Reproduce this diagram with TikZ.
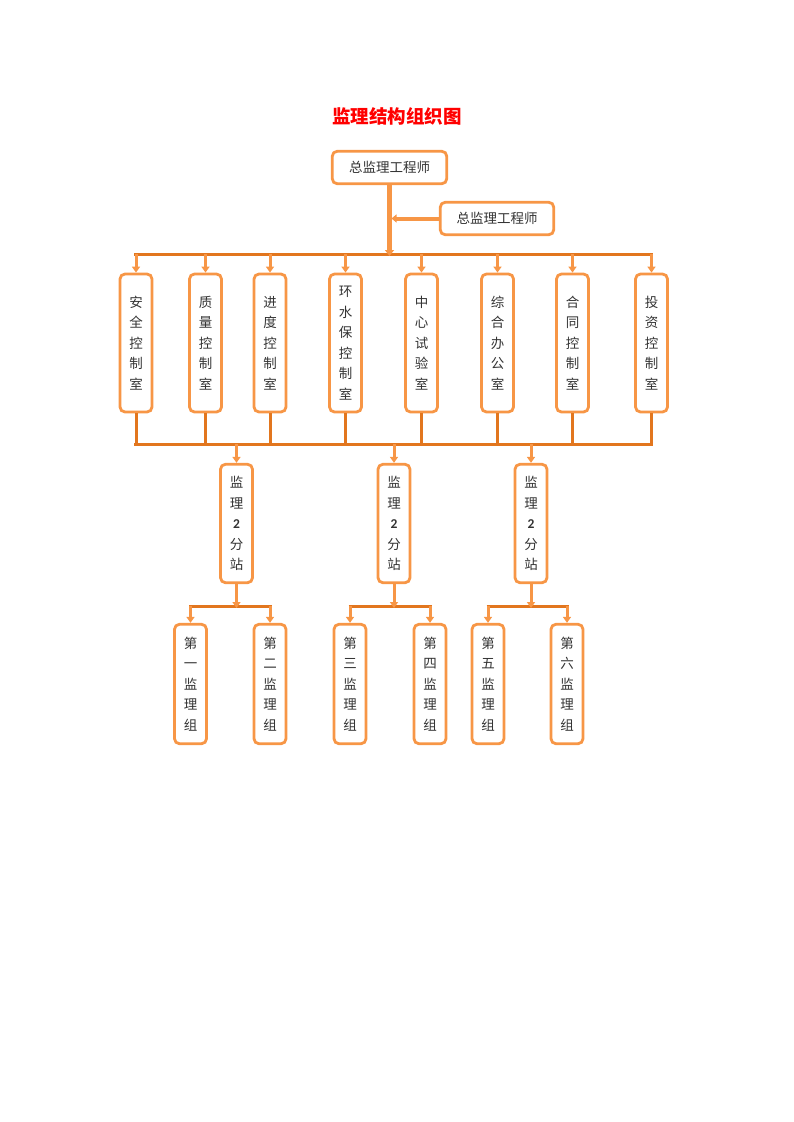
\documentclass[tikz,border=0pt]{standalone}
\usepackage{fontspec}
\setmainfont{Noto Sans CJK SC}
\newfontfamily\latinfont{Carlito}
\usetikzlibrary{arrows.meta}
\definecolor{boxc}{HTML}{F79646}
\definecolor{busc}{HTML}{E2761E}
\definecolor{txt}{HTML}{333333}
\tikzset{
  box/.style={draw=boxc, line width=2.8pt, rounded corners=5pt, fill=white,
    inner sep=0pt, align=center, text=txt},
  vbox/.style={box, minimum width=32pt, text width=18pt,
    font=\fontsize{13.5}{20.5}\selectfont},
  hbox/.style={box, minimum height=32.5pt, font=\fontsize{13.5}{16}\selectfont},
  bus/.style={draw=busc, line width=3pt},
  drop/.style={draw=boxc, line width=3pt, -{Triangle[width=8pt,length=6pt]}},
  trunk/.style={draw=boxc, line width=4.5pt, -{Triangle[width=9pt,length=6pt]}},
  branch/.style={draw=boxc, line width=4pt, -{Triangle[width=8pt,length=5pt]}},
}
\begin{document}
\begin{tikzpicture}[x=1pt,y=-1pt]
\useasboundingbox (0,0) rectangle (793,1122);
\node[text=red, font=\fontsize{18.5}{18}\selectfont\bfseries] (title) at (397,116) {监理结构组织图};

\node[hbox, minimum width=114.5pt] (top) at (389.5,167.5) {总监理工程师};
\node[hbox, minimum width=113.5pt] (sec) at (497,218.5) {总监理工程师};

% row 1
\node[vbox, minimum height=138pt] (r1) at (136,343) {安\\全\\控\\制\\室};
\node[vbox, minimum height=138pt] (r2) at (205.5,343) {质\\量\\控\\制\\室};
\node[vbox, minimum height=138pt] (r3) at (270,343) {进\\度\\控\\制\\室};
\node[vbox, minimum height=138pt] (r4) at (345.5,343) {环\\水\\保\\控\\制\\室};
\node[vbox, minimum height=138pt] (r5) at (421.5,343) {中\\心\\试\\验\\室};
\node[vbox, minimum height=138pt] (r6) at (497.5,343) {综\\合\\办\\公\\室};
\node[vbox, minimum height=138pt] (r7) at (572.5,343) {合\\同\\控\\制\\室};
\node[vbox, minimum height=138pt] (r8) at (651.5,343) {投\\资\\控\\制\\室};

% sub-stations
\node[vbox, minimum height=118.5pt] (fa) at (236.5,523.5) {监\\理\\{\latinfont\bfseries 2}\\分\\站};
\node[vbox, minimum height=118.5pt] (fb) at (394,523.5) {监\\理\\{\latinfont\bfseries 2}\\分\\站};
\node[vbox, minimum height=118.5pt] (fc) at (531,523.5) {监\\理\\{\latinfont\bfseries 2}\\分\\站};

% groups
\node[vbox, minimum height=119.5pt] (g1) at (190.5,684) {第\\一\\监\\理\\组};
\node[vbox, minimum height=119.5pt] (g2) at (270,684) {第\\二\\监\\理\\组};
\node[vbox, minimum height=119.5pt] (g3) at (350,684) {第\\三\\监\\理\\组};
\node[vbox, minimum height=119.5pt] (g4) at (430,684) {第\\四\\监\\理\\组};
\node[vbox, minimum height=119.5pt] (g5) at (488,684) {第\\五\\监\\理\\组};
\node[vbox, minimum height=119.5pt] (g6) at (567,684) {第\\六\\监\\理\\组};

% top connectors
\coordinate (busL) at (134,254);
\coordinate (busR) at (653,254);
\draw[bus] (busL) -- (busR);
\draw[trunk] (top.south) -- ([yshift=-2pt]top.south |- busL);
\draw[branch] (sec.west) -- ([xshift=2pt]top.south |- sec.west);
\foreach \r in {r1,r2,r3,r4,r5,r6,r7,r8}
  \draw[drop] (\r |- busL) -- (\r.north);

% lower bus
\coordinate (lbL) at (134,444);
\coordinate (lbR) at (653,444);
\draw[bus] (lbL) -- (lbR);
\foreach \r in {r1,r2,r3,r4,r5,r6,r7,r8}
  \draw[bus] (\r.south) -- (\r.south |- lbL);
\foreach \f in {fa,fb,fc}
  \draw[drop] (\f |- lbL) -- (\f.north);

% group buses
\coordinate (gy) at (0,606);
\draw[bus] ([xshift=-1.5pt]g1 |- gy) -- ([xshift=1.5pt]g2 |- gy);
\draw[bus] ([xshift=-1.5pt]g3 |- gy) -- ([xshift=1.5pt]g4 |- gy);
\draw[bus] ([xshift=-1.5pt]g5 |- gy) -- ([xshift=1.5pt]g6 |- gy);
\draw[drop] (fa.south) -- ([yshift=-2pt]fa.south |- gy);
\draw[drop] (fb.south) -- ([yshift=-2pt]fb.south |- gy);
\draw[drop] (fc.south) -- ([yshift=-2pt]fc.south |- gy);
\foreach \g in {g1,g2,g3,g4,g5,g6}
  \draw[drop] (\g |- gy) -- (\g.north);
\end{tikzpicture}
\end{document}
